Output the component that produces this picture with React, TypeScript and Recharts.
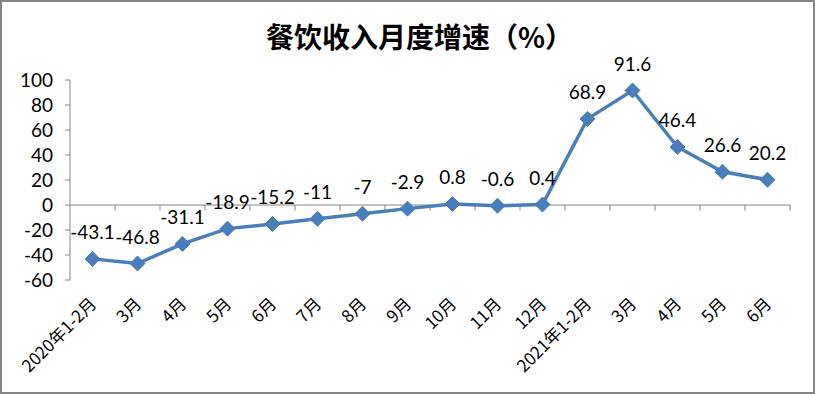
import React from "react";
import {
  LineChart,
  Line,
  XAxis,
  YAxis,
  ReferenceLine,
  LabelList,
} from "recharts";

const months: string[] = [
  "2020年1-2月", "3月", "4月", "5月", "6月", "7月", "8月", "9月",
  "10月", "11月", "12月", "2021年1-2月", "3月", "4月", "5月", "6月",
];
const growth: number[] = [
  -43.1, -46.8, -31.1, -18.9, -15.2, -11, -7, -2.9, 0.8, -0.6, 0.4, 68.9,
  91.6, 46.4, 26.6, 20.2,
];
const yTicks: number[] = [-60, -40, -20, 0, 20, 40, 60, 80, 100];

const data = months.map((m, i) => ({ idx: i, month: m, value: growth[i] }));
const boundaries = Array.from({ length: months.length + 1 }, (_, i) => i);

const BLUE = "#4a7ebb";
const AXIS = "#868686";
const LATIN = "Lato, 'Liberation Sans', sans-serif";
const CJK = "'Noto Sans CJK SC', sans-serif";

const PLOT_W = 720;
const HALF_BAND = PLOT_W / months.length / 2;

const Diamond = (props: any) => {
  const { cx, cy } = props;
  if (cx == null || cy == null) return null;
  const r = 7.5;
  return (
    <polygon
      points={`${cx},${cy - r} ${cx + r},${cy} ${cx},${cy + r} ${cx - r},${cy}`}
      fill={BLUE}
      stroke={BLUE}
    />
  );
};

const MonthTick = (props: any) => {
  const { x, y, payload } = props;
  const ax = x + 5;
  const ay = y + 17;
  return (
    <text
      x={ax}
      y={ay}
      transform={`rotate(-45, ${ax}, ${ay})`}
      textAnchor="end"
      fontSize={17}
      fontFamily={CJK}
      fill="#000"
    >
      {payload.value}
    </text>
  );
};

export default function App() {
  return (
    <div
      style={{
        position: "absolute",
        left: 0,
        top: 0,
        width: 815,
        height: 394,
        background: "#fff",
      }}
    >
      <div
        style={{
          position: "absolute",
          left: 7,
          top: 17,
          width: 825,
          textAlign: "center",
          fontFamily: CJK,
          fontWeight: 700,
          fontSize: 28,
          lineHeight: "38px",
          color: "#000",
        }}
      >
        餐饮收入月度增速（%）
      </div>
      <div style={{ position: "absolute", left: 0, top: 0 }}>
        <LineChart
          width={815}
          height={394}
          data={data}
          margin={{ top: 80, right: 25, bottom: 0, left: 0 }}
        >
          <XAxis
            dataKey="month"
            interval={0}
            height={114}
            padding={{ left: HALF_BAND, right: HALF_BAND }}
            axisLine={false}
            tickLine={false}
            tick={<MonthTick />}
          />
          <XAxis
            xAxisId="num"
            type="number"
            dataKey="idx"
            domain={[0, months.length]}
            allowDataOverflow
            hide
          />
          <YAxis
            width={70}
            domain={[-60, 100]}
            ticks={yTicks}
            interval={0}
            stroke={AXIS}
            tickSize={5}
            tickMargin={12}
            tick={{ fill: "#000", fontSize: 19, fontFamily: LATIN }}
          />
          <ReferenceLine y={0} stroke={AXIS} />
          {boundaries.slice(1).map((b) => (
            <ReferenceLine
              key={b}
              xAxisId="num"
              stroke={AXIS}
              segment={[
                { x: b, y: 0 },
                { x: b, y: -4.5 },
              ]}
            />
          ))}
          <Line
            type="linear"
            dataKey="value"
            stroke={BLUE}
            strokeWidth={3.5}
            dot={<Diamond />}
            activeDot={false}
            isAnimationActive={false}
          >
            <LabelList
              dataKey="value"
              position="top"
              offset={20}
              fill="#000"
              fontSize={19}
              fontFamily={LATIN}
            />
          </Line>
        </LineChart>
      </div>
      <div
        style={{
          position: "absolute",
          inset: 0,
          border: "2px solid #868686",
          pointerEvents: "none",
        }}
      />
    </div>
  );
}
